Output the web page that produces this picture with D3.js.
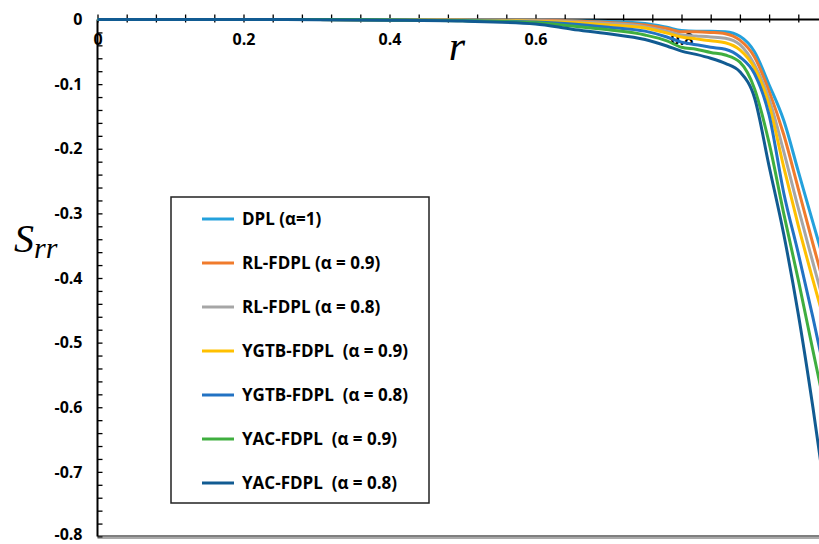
<!DOCTYPE html>
<html>
<head>
<meta charset="utf-8">
<script src="https://cdn.jsdelivr.net/npm/d3@7"></script>
<style>
  body { margin: 0; background: #fff; }
  svg { display: block; }
  text { font-family: "Open Sans", sans-serif; }
</style>
</head>
<body>
<svg id="chart" width="819" height="544"></svg>
<script>
// radial position r
const rValues = [0, 0.1, 0.2, 0.3, 0.4, 0.5, 0.6, 0.65, 0.7, 0.75, 0.78, 0.8, 0.82, 0.84, 0.86, 0.88, 0.9, 0.92, 0.94, 0.96, 0.98, 1.0];

// S_rr for each model
const dpl      = [0, 0, 0, 0, -0.0005, -0.001, -0.001, -0.002, -0.003, -0.006, -0.012, -0.017, -0.018, -0.018, -0.019, -0.026, -0.050, -0.101, -0.156, -0.235, -0.314, -0.392];
const rl09     = [0, 0, 0, 0, -0.0005, -0.001, -0.0012, -0.0023, -0.0046, -0.0085, -0.014, -0.019, -0.019, -0.020, -0.022, -0.032, -0.058, -0.111, -0.178, -0.262, -0.347, -0.430];
const rl08     = [0, 0, 0, 0, -0.0005, -0.001, -0.002, -0.0034, -0.006, -0.011, -0.018, -0.024, -0.0255, -0.027, -0.029, -0.039, -0.070, -0.123, -0.204, -0.292, -0.376, -0.459];
const ygtb09   = [0, 0, 0, 0, -0.0005, -0.0012, -0.0028, -0.0046, -0.0085, -0.013, -0.021, -0.027, -0.030, -0.033, -0.036, -0.047, -0.075, -0.132, -0.228, -0.319, -0.403, -0.484];
const ygtb08   = [0, 0, 0, 0, -0.0006, -0.0015, -0.004, -0.007, -0.012, -0.018, -0.027, -0.035, -0.039, -0.043, -0.046, -0.058, -0.084, -0.148, -0.268, -0.362, -0.461, -0.566];
const yac09    = [0, 0, 0, 0, -0.0008, -0.002, -0.005, -0.010, -0.016, -0.024, -0.033, -0.043, -0.046, -0.051, -0.055, -0.066, -0.107, -0.191, -0.300, -0.403, -0.512, -0.620];
const yac08    = [0, 0, 0, -0.0003, -0.001, -0.0025, -0.007, -0.015, -0.022, -0.031, -0.041, -0.049, -0.054, -0.060, -0.068, -0.081, -0.121, -0.227, -0.332, -0.456, -0.600, -0.759];

const seriesNames = ["DPL (α=1)", "RL-FDPL (α = 0.9)", "RL-FDPL (α = 0.8)", "YGTB-FDPL  (α = 0.9)", "YGTB-FDPL  (α = 0.8)", "YAC-FDPL  (α = 0.9)", "YAC-FDPL  (α = 0.8)"];
const seriesColors = ["#24a1dc", "#f07b2c", "#a6a6a6", "#ffc000", "#2272c3", "#3fae3f", "#115b92"];
const seriesValues = [dpl, rl09, rl08, ygtb09, ygtb08, yac09, yac08];

const xMajor = [0, 0.2, 0.4, 0.6, 0.8];
const xMinor = d3.range(0, 26).map(i => i * 0.04);
const yMajor = [0, -0.1, -0.2, -0.3, -0.4, -0.5, -0.6, -0.7, -0.8];
const yMinor = d3.range(0, 41).map(i => -i * 0.02);

const svg = d3.select("#chart");
const W = 819;

const x = d3.scaleLinear().domain([0, 1]).range([97.5, 827.5]);
const y = d3.scaleLinear().domain([0, -0.8]).range([19.5, 536.5]);

svg.append("defs").append("clipPath").attr("id", "plot")
  .append("rect").attr("x", 90).attr("y", 0).attr("width", W - 90).attr("height", 544);

// x axis along S = 0 (ticks crossing the line)
const xAxis = svg.append("g")
  .attr("transform", `translate(0,${y(0)})`)
  .call(d3.axisTop(x).tickValues(xMinor.filter(v => x(v) < W)).tickSize(5).tickFormat(""));
xAxis.select(".domain").remove();
xAxis.selectAll(".tick line").attr("y1", 3).attr("stroke", "#000").attr("stroke-width", 1.3);
svg.append("line").attr("x1", x(0)).attr("x2", W).attr("y1", y(0)).attr("y2", y(0))
  .attr("stroke", "#000").attr("stroke-width", 2);

const xLabels = svg.append("g")
  .attr("transform", `translate(0,${y(0)})`)
  .call(d3.axisBottom(x).tickValues(xMajor).tickSize(0).tickPadding(14).tickFormat(d => String(d)));
xLabels.select(".domain").remove();
xLabels.selectAll("text").attr("font-size", 16).attr("font-weight", "bold")
  .attr("font-family", "Open Sans, sans-serif").attr("fill", "#000");

// y axis
const yAxis = svg.append("g")
  .attr("transform", `translate(${x(0)},0)`)
  .call(d3.axisLeft(y).tickValues(yMinor).tickSize(5).tickFormat(""));
yAxis.select(".domain").remove();
yAxis.selectAll(".tick line").attr("x2", 5).attr("stroke", "#000").attr("stroke-width", 1.3);
svg.append("line").attr("x1", x(0)).attr("x2", x(0)).attr("y1", y(0)).attr("y2", y(-0.8))
  .attr("stroke", "#000").attr("stroke-width", 2);

const yLabels = svg.append("g")
  .attr("transform", `translate(${x(0)},0)`)
  .call(d3.axisLeft(y).tickValues(yMajor).tickSize(0).tickPadding(15).tickFormat(d => String(d)));
yLabels.select(".domain").remove();
yLabels.selectAll("text").attr("font-size", 16).attr("font-weight", "bold")
  .attr("font-family", "Open Sans, sans-serif").attr("fill", "#000");
yLabels.selectAll(".tick").filter(d => d === -0.8).select("text").attr("dy", "0.2em");

// bottom frame line
svg.append("line").attr("x1", x(0)).attr("x2", W).attr("y1", y(-0.8) - 0.5).attr("y2", y(-0.8) - 0.5)
  .attr("stroke", "#000").attr("stroke-width", 1.2);
svg.append("line").attr("x1", x(0)).attr("x2", W).attr("y1", y(-0.8) + 1.5).attr("y2", y(-0.8) + 1.5)
  .attr("stroke", "#555").attr("stroke-width", 1.2);

// curves
const line = d3.line()
  .x(d => x(d[0]))
  .y(d => y(d[1]))
  .curve(d3.curveMonotoneX);

svg.append("g").attr("clip-path", "url(#plot)")
  .selectAll("path")
  .data(seriesValues)
  .join("path")
  .attr("d", vals => line(rValues.map((r, i) => [r, vals[i]])))
  .attr("fill", "none")
  .attr("stroke", (d, i) => seriesColors[i])
  .attr("stroke-width", 3);

// axis titles
svg.append("text").attr("x", 457).attr("y", 60)
  .attr("text-anchor", "middle")
  .style("font-family", "'Liberation Serif', serif").style("font-style", "italic")
  .attr("font-size", 42).text("r");

const sLabel = svg.append("text").attr("x", 14).attr("y", 252)
  .style("font-family", "'Liberation Serif', serif").style("font-style", "italic");
sLabel.append("tspan").attr("font-size", 40).text("S");
sLabel.append("tspan").attr("font-size", 30).attr("dy", 6).text("rr");

// legend
const legend = svg.append("g");
legend.append("rect").attr("x", 171).attr("y", 197).attr("width", 258).attr("height", 306)
  .attr("fill", "#fff").attr("stroke", "#222").attr("stroke-width", 1.5);

const items = legend.selectAll("g.item")
  .data(seriesNames)
  .join("g")
  .attr("class", "item")
  .attr("transform", (d, i) => `translate(0,${219 + i * 44})`);
items.append("line").attr("x1", 202).attr("x2", 234)
  .attr("stroke", (d, i) => seriesColors[i]).attr("stroke-width", 3);
items.append("text").attr("x", 242).attr("dy", "0.36em")
  .attr("font-size", 17).attr("font-weight", "bold")
  .style("white-space", "pre")
  .text(d => d);
</script>
</body>
</html>
